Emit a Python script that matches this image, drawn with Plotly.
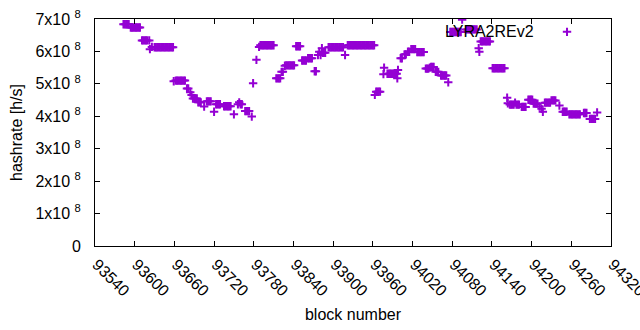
import plotly.graph_objects as go

# block numbers (x) and hashrate in units of 1e8 h/s (y)
blocks = [
    93583, 93585, 93587, 93589, 93591,
    93594, 93596, 93598, 93600, 93602, 93604, 93606, 93608,
    93611, 93613, 93615, 93617, 93619, 93622,
    93623, 93626,
    93630, 93632, 93634, 93636, 93638, 93640, 93642, 93644, 93646, 93648, 93650, 93652, 93654, 93656, 93658,
    93659,
    93662, 93664, 93666, 93668, 93670, 93672, 93674, 93676,
    93679, 93681,
    93684, 93686,
    93688, 93690, 93692, 93694,
    93696, 93698, 93700,
    93705,
    93709, 93711, 93713, 93715,
    93720,
    93723, 93725, 93727, 93729,
    93735, 93737, 93739, 93741, 93743, 93745,
    93750,
    93756, 93758, 93760, 93762,
    93767, 93769, 93771, 93773,
    93777, 93779, 93784,
    93788, 93790, 93792, 93794, 93796, 93798, 93800, 93802, 93804, 93806, 93808, 93810,
    93814, 93816, 93818, 93820,
    93822, 93824,
    93827, 93829, 93831, 93833, 93835, 93837, 93839, 93841,
    93844, 93846, 93848, 93850,
    93853, 93855, 93857, 93859,
    93862, 93864, 93866, 93868,
    93872, 93874,
    93877, 93879, 93881, 93883, 93884, 93886, 93888,
    93893, 93895, 93897, 93899, 93901, 93903, 93905, 93907, 93909, 93911, 93913, 93915,
    93918,
    93922, 93924, 93926, 93928, 93930, 93932, 93934, 93936, 93938, 93940, 93942,
    93944, 93946, 93948, 93950, 93952, 93954, 93956, 93958, 93960, 93962,
    93963,
    93965, 93967, 93969, 93971,
    93976, 93977,
    93982, 93984, 93986, 93988, 93990, 93992, 93994, 93996,
    93997, 93998,
    94002, 94004,
    94008, 94010,
    94013, 94015,
    94018, 94020, 94022, 94024,
    94027, 94029, 94031, 94033, 94035, 94037,
    94040, 94042, 94044, 94046, 94048, 94050, 94052,
    94055, 94057, 94059,
    94063, 94065, 94067, 94069, 94071,
    94074,
    94077, 94079, 94081, 94083, 94085, 94087, 94089, 94091, 94093,
    94095,
    94101, 94103, 94105, 94107, 94109, 94111, 94113, 94115, 94117,
    94120, 94121,
    94123, 94125, 94127, 94129, 94131, 94133, 94135, 94137,
    94141, 94143, 94145, 94147, 94149, 94151, 94153, 94155, 94157, 94159,
    94163, 94164,
    94167, 94169, 94171, 94173, 94175, 94177, 94179, 94181,
    94185, 94187, 94189, 94191,
    94195, 94197, 94199, 94201,
    94203, 94205, 94207, 94209,
    94212, 94215, 94217,
    94220, 94222, 94224, 94226, 94228,
    94230, 94232, 94234, 94236,
    94242,
    94247, 94249, 94251, 94253,
    94257, 94259, 94261, 94263, 94265, 94267, 94269, 94271, 94273,
    94279, 94281, 94283,
    94288, 94290, 94292, 94294, 94296,
    94299,
]

hashrate_e8 = [
    6.84, 6.84, 6.84, 6.84, 6.84,
    6.74, 6.74, 6.74, 6.74, 6.74, 6.74, 6.74, 6.74,
    6.34, 6.34, 6.34, 6.34, 6.34, 6.34,
    6.07, 6.14,
    6.13, 6.13, 6.13, 6.13, 6.13, 6.13, 6.13, 6.13, 6.13, 6.13, 6.13, 6.13, 6.13, 6.13, 6.13,
    5.08,
    5.10, 5.10, 5.10, 5.10, 5.10, 5.10, 5.10, 5.10,
    4.86, 4.86,
    4.74, 4.66,
    4.55, 4.55, 4.55, 4.55,
    4.43, 4.43, 4.43,
    4.30,
    4.46, 4.46, 4.46, 4.46,
    4.14,
    4.37, 4.37, 4.37, 4.37,
    4.31, 4.31, 4.31, 4.31, 4.31, 4.31,
    4.06,
    4.37, 4.43, 4.37, 4.37,
    4.16, 4.16, 4.16, 4.16,
    3.99, 5.02, 5.74,
    6.14, 6.19, 6.19, 6.19, 6.19, 6.19, 6.19, 6.19, 6.19, 6.19, 6.19, 6.19,
    5.17, 5.17, 5.17, 5.17,
    5.37, 5.37,
    5.56, 5.57, 5.57, 5.57, 5.57, 5.57, 5.57, 5.57,
    6.16, 6.16, 6.16, 6.16,
    5.72, 5.72, 5.72, 5.72,
    5.79, 5.79, 5.79, 5.79,
    5.39, 5.39,
    5.89, 5.99, 5.89, 6.10, 5.96, 5.96, 5.96,
    6.13, 6.13, 6.13, 6.13, 6.13, 6.13, 6.13, 6.13, 6.13, 6.13, 6.13, 6.13,
    5.89,
    6.19, 6.19, 6.19, 6.19, 6.19, 6.19, 6.19, 6.19, 6.19, 6.19, 6.19,
    6.19, 6.19, 6.19, 6.19, 6.19, 6.19, 6.19, 6.19, 6.19, 6.19,
    4.66,
    4.76, 4.76, 4.76, 4.76,
    5.30, 5.50,
    5.31, 5.31, 5.31, 5.31, 5.31, 5.31, 5.31, 5.31,
    5.17, 5.43,
    5.79, 5.79,
    5.91, 5.91,
    5.99, 5.99,
    6.07, 6.07, 6.07, 6.07,
    5.98, 5.98, 5.98, 5.98, 5.98, 5.98,
    5.47, 5.47, 5.47, 5.50, 5.52, 5.52, 5.52,
    5.37, 5.37, 5.37,
    5.26, 5.26, 5.26, 5.26, 5.26,
    5.05,
    6.60, 6.60, 6.60, 6.60, 6.60, 6.60, 6.60, 6.60, 6.60,
    6.98,
    6.68, 6.68, 6.68, 6.68, 6.68, 6.68, 6.68, 6.68, 6.68,
    6.10, 5.99,
    6.31, 6.31, 6.31, 6.31, 6.31, 6.31, 6.31, 6.31,
    5.48, 5.48, 5.48, 5.48, 5.48, 5.48, 5.48, 5.48, 5.48, 5.48,
    4.57, 4.40,
    4.36, 4.36, 4.36, 4.36, 4.42, 4.36, 4.36, 4.36,
    4.29, 4.29, 4.29, 4.29,
    4.51, 4.51, 4.51, 4.51,
    4.39, 4.39, 4.39, 4.39,
    4.30, 4.23, 4.14,
    4.42, 4.42, 4.42, 4.42, 4.42,
    4.49, 4.49, 4.49, 4.49,
    4.33,
    4.14, 4.14, 4.14, 4.14,
    4.06, 4.06, 4.06, 4.06, 4.06, 4.06, 4.06, 4.06, 4.06,
    4.10, 4.10, 4.10,
    3.92, 3.92, 3.92, 3.92, 3.92,
    4.12,
]

assert len(blocks) == len(hashrate_e8)

x_ticks = [93540, 93600, 93660, 93720, 93780, 93840, 93900, 93960,
           94020, 94080, 94140, 94200, 94260, 94320]
y_ticks = [0, 1, 2, 3, 4, 5, 6, 7]
y_tick_labels = ["0"] + [f"{v}x10\u00a0<sup>8</sup>" for v in y_ticks[1:]]
series_name = "LYRA2REv2"

FONT = "Liberation Sans"
COLOR = "#9400D3"

fig = go.Figure()
fig.add_trace(go.Scatter(
    x=blocks, y=hashrate_e8, mode="markers", name=" ",
    marker=dict(symbol="cross-thin", size=6, color=COLOR,
                line=dict(color=COLOR, width=2)),
    showlegend=True,
))

axis_common = dict(
    showline=True, linecolor="black", linewidth=1, mirror="ticks",
    ticks="inside", ticklen=5, tickwidth=1, tickcolor="black",
    showgrid=False, zeroline=False, automargin=False,
    ticklabeloverflow="allow",
    tickfont=dict(family=FONT, size=16, color="black"),
)

fig.update_xaxes(
    range=[93540, 94320], tickmode="array", tickvals=x_ticks,
    ticktext=[str(t) for t in x_ticks], tickangle=45,
    ticklabelshift=2, ticklabelstandoff=2,
    title=dict(text="block number", font=dict(family=FONT, size=16, color="black"),
               standoff=10),
    **axis_common,
)
fig.update_yaxes(
    range=[0, 7], tickmode="array", tickvals=y_ticks, ticktext=y_tick_labels,
    ticklabelstandoff=10,
    title=dict(text="hashrate [h/s]", font=dict(family=FONT, size=16, color="black"),
               standoff=8),
    **axis_common,
)

fig.add_annotation(
    xref="paper", yref="paper", x=0.855, y=0.943, xanchor="right", yanchor="middle",
    text=series_name, showarrow=False,
    font=dict(family=FONT, size=16, color="black"),
)

fig.update_layout(
    width=640, height=330,
    margin=dict(l=95, r=29, t=19, b=84, autoexpand=False),
    paper_bgcolor="white", plot_bgcolor="white",
    font=dict(family=FONT, size=16, color="black"),
    legend=dict(x=0.876, y=0.943, xanchor="left", yanchor="middle",
                bgcolor="rgba(0,0,0,0)", borderwidth=0,
                font=dict(family=FONT, size=16)),
)

fig.write_html(
    "out.html",
    config={"displayModeBar": False},
    post_script="document.body.style.margin='0';document.body.style.overflow='hidden';",
)
